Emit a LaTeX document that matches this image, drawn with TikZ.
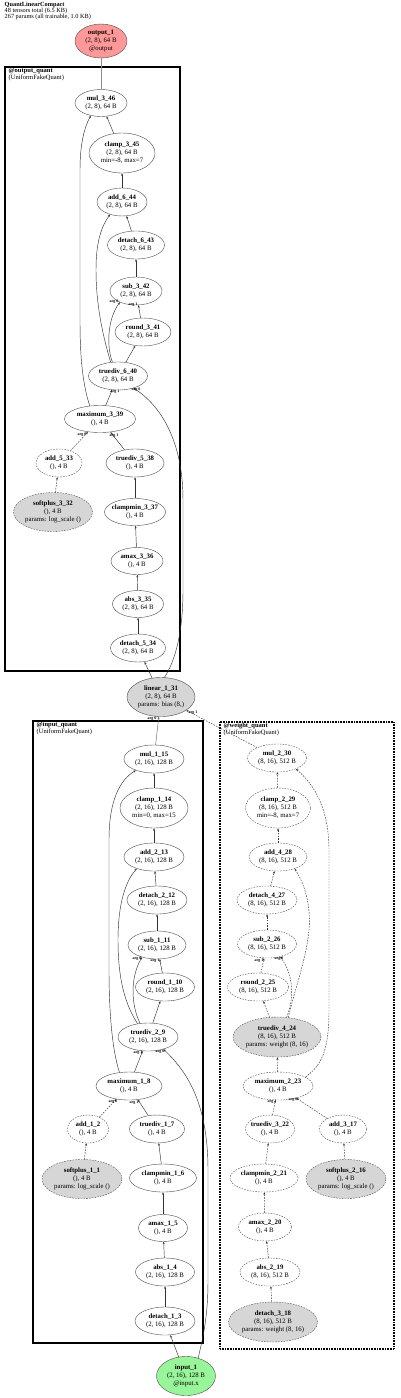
\documentclass[tikz,border=0pt]{standalone}
\usepackage{fontspec}
\setmainfont{Liberation Serif}
\usetikzlibrary{shapes.geometric,arrows.meta}
\definecolor{outred}{RGB}{255,153,153}
\definecolor{ingreen}{RGB}{153,245,153}
\definecolor{pgray}{RGB}{214,214,214}
\begin{document}
\begin{tikzpicture}[x=1pt,y=-1pt,
  nd/.style={ellipse, draw=black!70, line width=0.4pt, inner xsep=-4pt, inner ysep=-2pt, align=center, font=\fontsize{6.8}{7.9}\selectfont},
  dnd/.style={nd, dash pattern=on 1.6pt off 1.2pt},
  gnd/.style={fill=pgray},
  ed/.style={draw=black!80, line width=0.45pt, -{Stealth[length=2.6pt,width=2pt]}},
  ded/.style={ed, dash pattern=on 1.6pt off 1.2pt},
  el/.style={font=\fontsize{4}{4}\selectfont\bfseries, inner sep=0pt},
  cl/.style={anchor=north west, align=left, inner sep=0pt, font=\fontsize{6.5}{5.8}\selectfont},
  clbox/.style={draw=black, line width=2pt},
  clwbox/.style={draw=black, line width=2pt, dash pattern=on 0.8pt off 0.8pt}
]
\fill[white] (0,0) rectangle (400,1398);
\useasboundingbox (0,0) rectangle (400,1398);

% header
\node[anchor=north west, align=left, inner sep=0pt, font=\fontsize{6.3}{6}\selectfont] (hdr) at (4.5,2.2)
  {\textbf{QuantLinearCompact}\\48 tensors total (6.5 KB)\\267 params (all trainable, 1.0 KB)};

% clusters
\draw[clbox] (5,67) rectangle (180,671);
\draw[clbox] (33,721) rectangle (203,1343);
\draw[clwbox] (220,722) rectangle (394,1349);
\node[cl] (lout) at (8.5,68.2) {\textbf{@output\_quant}\\(UniformFakeQuant)};
\node[cl] (lin) at (36.5,722.2) {\textbf{@input\_quant}\\(UniformFakeQuant)};
\node[cl] (lw) at (223.5,723.2) {\textbf{@weight\_quant}\\(UniformFakeQuant)};

% ---------- output side ----------
\node[nd, fill=outred, minimum width=52, minimum height=34] (output-1) at (101,41) {\textbf{output\_1}\\(2, 8), 64 B\\@output};
\node[nd, minimum width=52, minimum height=27] (mul-3-46) at (101,103) {\textbf{mul\_3\_46}\\(2, 8), 64 B};
\node[nd, minimum width=66, minimum height=40] (clamp-3-45) at (122,153) {\textbf{clamp\_3\_45}\\(2, 8), 64 B\\min=-8, max=7};
\node[nd, minimum width=50, minimum height=28] (add-6-44) at (122,202) {\textbf{add\_6\_44}\\(2, 8), 64 B};
\node[nd, minimum width=57, minimum height=28] (detach-6-43) at (136,245) {\textbf{detach\_6\_43}\\(2, 8), 64 B};
\node[nd, minimum width=52, minimum height=28] (sub-3-42) at (136,291) {\textbf{sub\_3\_42}\\(2, 8), 64 B};
\node[nd, minimum width=56, minimum height=28] (round-3-41) at (143,332) {\textbf{round\_3\_41}\\(2, 8), 64 B};
\node[nd, minimum width=59, minimum height=28] (truediv-6-40) at (118,376) {\textbf{truediv\_6\_40}\\(2, 8), 64 B};
\node[nd, minimum width=71, minimum height=27] (maximum-3-39) at (100,419) {\textbf{maximum\_3\_39}\\(), 4 B};
\node[dnd, minimum width=46, minimum height=28] (add-5-33) at (59,463) {\textbf{add\_5\_33}\\(), 4 B};
\node[nd, minimum width=58, minimum height=28] (truediv-5-38) at (135,463) {\textbf{truediv\_5\_38}\\(), 4 B};
\node[dnd, gnd, minimum width=79, minimum height=39] (softplus-3-32) at (53,512) {\textbf{softplus\_3\_32}\\(), 4 B\\params: log\_scale ()};
\node[nd, minimum width=61, minimum height=27] (clampmin-3-37) at (135,512) {\textbf{clampmin\_3\_37}\\(), 4 B};
\node[nd, minimum width=52, minimum height=27] (amax-3-36) at (137,561) {\textbf{amax\_3\_36}\\(), 4 B};
\node[nd, minimum width=51, minimum height=27] (abs-3-35) at (138,604) {\textbf{abs\_3\_35}\\(2, 8), 64 B};
\node[nd, minimum width=55, minimum height=28] (detach-5-34) at (138,648) {\textbf{detach\_5\_34}\\(2, 8), 64 B};
\node[nd, gnd, minimum width=68, minimum height=39] (linear-1-31) at (161,697) {\textbf{linear\_1\_31}\\(2, 8), 64 B\\params: bias (8,)};

% ---------- input side ----------
\node[nd, minimum width=60, minimum height=28] (mul-1-15) at (154,759) {\textbf{mul\_1\_15}\\(2, 16), 128 B};
\node[nd, minimum width=68, minimum height=40] (clamp-1-14) at (154,808) {\textbf{clamp\_1\_14}\\(2, 16), 128 B\\min=0, max=15};
\node[nd, minimum width=60, minimum height=28] (add-2-13) at (154,857) {\textbf{add\_2\_13}\\(2, 16), 128 B};
\node[nd, minimum width=60, minimum height=28] (detach-2-12) at (157,900) {\textbf{detach\_2\_12}\\(2, 16), 128 B};
\node[nd, minimum width=58, minimum height=28] (sub-1-11) at (157,945) {\textbf{sub\_1\_11}\\(2, 16), 128 B};
\node[nd, minimum width=59, minimum height=28] (round-1-10) at (165,987) {\textbf{round\_1\_10}\\(2, 16), 128 B};
\node[nd, minimum width=60, minimum height=28] (truediv-2-9) at (148,1037) {\textbf{truediv\_2\_9}\\(2, 16), 128 B};
\node[nd, minimum width=66, minimum height=28] (maximum-1-8) at (129,1086) {\textbf{maximum\_1\_8}\\(), 4 B};
\node[dnd, minimum width=41, minimum height=28] (add-1-2) at (88,1129) {\textbf{add\_1\_2}\\(), 4 B};
\node[nd, minimum width=55, minimum height=28] (truediv-1-7) at (157,1129) {\textbf{truediv\_1\_7}\\(), 4 B};
\node[dnd, gnd, minimum width=80, minimum height=39] (softplus-1-1) at (82,1179) {\textbf{softplus\_1\_1}\\(), 4 B\\params: log\_scale ()};
\node[nd, minimum width=67, minimum height=28] (clampmin-1-6) at (163,1178) {\textbf{clampmin\_1\_6}\\(), 4 B};
\node[nd, minimum width=49, minimum height=27] (amax-1-5) at (163,1228) {\textbf{amax\_1\_5}\\(), 4 B};
\node[nd, minimum width=59, minimum height=28] (abs-1-4) at (165,1272) {\textbf{abs\_1\_4}\\(2, 16), 128 B};
\node[nd, minimum width=60, minimum height=28] (detach-1-3) at (165,1321) {\textbf{detach\_1\_3}\\(2, 16), 128 B};
\node[nd, fill=ingreen, minimum width=59, minimum height=39] (input-1) at (186,1376) {\textbf{input\_1}\\(2, 16), 128 B\\@input.x};

% ---------- weight side ----------
\node[dnd, minimum width=59, minimum height=28] (mul-2-30) at (277,758) {\textbf{mul\_2\_30}\\(8, 16), 512 B};
\node[dnd, minimum width=65, minimum height=40] (clamp-2-29) at (278,808) {\textbf{clamp\_2\_29}\\(8, 16), 512 B\\min=-8, max=7};
\node[dnd, minimum width=58, minimum height=28] (add-4-28) at (278,857) {\textbf{add\_4\_28}\\(8, 16), 512 B};
\node[dnd, minimum width=60, minimum height=28] (detach-4-27) at (267,900) {\textbf{detach\_4\_27}\\(8, 16), 512 B};
\node[dnd, minimum width=59, minimum height=28] (sub-2-26) at (267,944) {\textbf{sub\_2\_26}\\(8, 16), 512 B};
\node[dnd, minimum width=61, minimum height=28] (round-2-25) at (258,987) {\textbf{round\_2\_25}\\(8, 16), 512 B};
\node[dnd, gnd, minimum width=88, minimum height=40] (truediv-4-24) at (277,1037) {\textbf{truediv\_4\_24}\\(8, 16), 512 B\\params: weight (8, 16)};
\node[dnd, minimum width=70, minimum height=28] (maximum-2-23) at (278,1086) {\textbf{maximum\_2\_23}\\(), 4 B};
\node[dnd, minimum width=49, minimum height=28] (truediv-3-22) at (270,1129) {\textbf{truediv\_3\_22}\\(), 4 B};
\node[dnd, minimum width=47, minimum height=28] (add-3-17) at (343,1129) {\textbf{add\_3\_17}\\(), 4 B};
\node[dnd, minimum width=68, minimum height=28] (clampmin-2-21) at (264,1178) {\textbf{clampmin\_2\_21}\\(), 4 B};
\node[dnd, gnd, minimum width=80, minimum height=39] (softplus-2-16) at (346,1179) {\textbf{softplus\_2\_16}\\(), 4 B\\params: log\_scale ()};
\node[dnd, minimum width=53, minimum height=28] (amax-2-20) at (265,1227) {\textbf{amax\_2\_20}\\(), 4 B};
\node[dnd, minimum width=60, minimum height=28] (abs-2-19) at (270,1272) {\textbf{abs\_2\_19}\\(8, 16), 512 B};
\node[dnd, gnd, minimum width=89, minimum height=40] (detach-3-18) at (273,1322) {\textbf{detach\_3\_18}\\(8, 16), 512 B\\params: weight (8, 16)};

% ---------- edges: output side ----------
\draw[draw=black!45, line width=0.5pt] (mul-3-46) -- (output-1);
\draw[ed] (clamp-3-45) -- (mul-3-46);
\draw[ed] (maximum-3-39.128) .. controls (83,385) and (80,360) .. (80,320) -- (80,170) .. controls (80,145) and (84,128) .. (mul-3-46.231);
\draw[ed] (add-6-44) -- (clamp-3-45);
\draw[ed] (detach-6-43) -- (add-6-44);
\draw[ed] (truediv-6-40.118) .. controls (101,330) and (96,300) .. (96,270) .. controls (96,240) and (102,226) .. (add-6-44.226);
\draw[ed] (sub-3-42) -- (detach-6-43);
\draw[ed] (truediv-6-40.112) .. controls (106,345) and (108,318) .. (sub-3-42.215);
\draw[ed] (round-3-41) -- (sub-3-42);
\draw[ed] (truediv-6-40) -- (round-3-41);
\draw[ed] (maximum-3-39) -- (truediv-6-40);
\draw[ed] (linear-1-31.80) .. controls (176,660) and (183,630) .. (183,590) -- (183,500) .. controls (183,440) and (160,405) .. (truediv-6-40.322);
\draw[ded] (add-5-33) -- (maximum-3-39);
\draw[ed] (truediv-5-38) -- (maximum-3-39);
\draw[ded] (softplus-3-32) -- (add-5-33);
\draw[ed] (clampmin-3-37) -- (truediv-5-38);
\draw[ed] (amax-3-36) -- (clampmin-3-37);
\draw[ed] (abs-3-35) -- (amax-3-36);
\draw[ed] (detach-5-34) -- (abs-3-35);
\draw[ed] (linear-1-31) -- (detach-5-34);
\node[el] (a1) at (114,302) {arg 0};
\node[el] (a2) at (133,304.5) {arg 1};
\node[el] (a3) at (115,391.5) {arg 1};
\node[el] (a4) at (136,390) {arg 0};
\node[el] (a5) at (82,435) {arg 0};
\node[el] (a6) at (114,436) {arg 1};

% ---------- edges: linear inputs ----------
\draw[ed, draw=black!60] (mul-1-15) -- (linear-1-31);
\draw[ded] (mul-2-30) -- (linear-1-31);
\node[el] (a7) at (152,719) {arg 0};
\node[el] (a8) at (193,713) {arg 1};

% ---------- edges: input side ----------
\draw[ed] (clamp-1-14) -- (mul-1-15);
\draw[ed] (maximum-1-8.125) .. controls (112,1050) and (109,1010) .. (109,970) -- (109,840) .. controls (109,800) and (120,780) .. (mul-1-15.212);
\draw[ed] (add-2-13) -- (clamp-1-14);
\draw[ed] (detach-2-12) -- (add-2-13);
\draw[ed] (truediv-2-9.128) .. controls (122,1000) and (118,970) .. (118,940) .. controls (118,905) and (125,882) .. (add-2-13.214);
\draw[ed] (sub-1-11) -- (detach-2-12);
\draw[ed] (truediv-2-9.120) .. controls (131,1005) and (130,978) .. (sub-1-11.219);
\draw[ed] (round-1-10) -- (sub-1-11);
\draw[ed] (truediv-2-9) -- (round-1-10);
\draw[ed] (maximum-1-8) -- (truediv-2-9);
\draw[ed] (input-1.56) .. controls (205,1330) and (208,1310) .. (208,1280) -- (208,1170) .. controls (208,1100) and (185,1070) .. (truediv-2-9.322);
\draw[ded] (add-1-2) -- (maximum-1-8);
\draw[ed] (truediv-1-7) -- (maximum-1-8);
\draw[ded] (softplus-1-1) -- (add-1-2);
\draw[ed] (clampmin-1-6) -- (truediv-1-7);
\draw[ed] (amax-1-5) -- (clampmin-1-6);
\draw[ed] (abs-1-4) -- (amax-1-5);
\draw[ed] (detach-1-3) -- (abs-1-4);
\draw[ed] (input-1) -- (detach-1-3);
\node[el] (b1) at (137,958.5) {arg 0};
\node[el] (b2) at (155,961) {arg 1};
\node[el] (b3) at (138,1053) {arg 1};
\node[el] (b4) at (160,1051.5) {arg 0};
\node[el] (b5) at (113,1102) {arg 0};
\node[el] (b6) at (134,1102.5) {arg 1};

% ---------- edges: weight side ----------
\draw[ded] (clamp-2-29) -- (mul-2-30);
\draw[ded] (maximum-2-23.18) .. controls (322,1065) and (329,1050) .. (329,1010) -- (329,850) .. controls (329,810) and (315,785) .. (mul-2-30.330);
\draw[ded] (add-4-28) -- (clamp-2-29);
\draw[ded] (detach-4-27) -- (add-4-28);
\draw[ded] (truediv-4-24.60) .. controls (296,985) and (306,960) .. (309,930) .. controls (311,905) and (305,885) .. (add-4-28.325);
\draw[ded] (sub-2-26) -- (detach-4-27);
\draw[ded] (round-2-25) -- (sub-2-26);
\draw[ded] (truediv-4-24.64) .. controls (294,1000) and (294,975) .. (sub-2-26.316);
\draw[ded] (truediv-4-24) -- (round-2-25);
\draw[ded] (maximum-2-23) -- (truediv-4-24);
\draw[ded] (truediv-3-22) -- (maximum-2-23);
\draw[ded] (add-3-17) -- (maximum-2-23);
\draw[ded] (clampmin-2-21) -- (truediv-3-22);
\draw[ded] (softplus-2-16) -- (add-3-17);
\draw[ded] (amax-2-20) -- (clampmin-2-21);
\draw[ded] (abs-2-19) -- (amax-2-20);
\draw[ded] (detach-3-18) -- (abs-2-19);
\node[el] (c1) at (259,961) {arg 1};
\node[el] (c2) at (279,958.5) {arg 0};
\node[el] (c3) at (272,1102) {arg 1};
\node[el] (c4) at (293,1100) {arg 0};
\end{tikzpicture}
\end{document}
